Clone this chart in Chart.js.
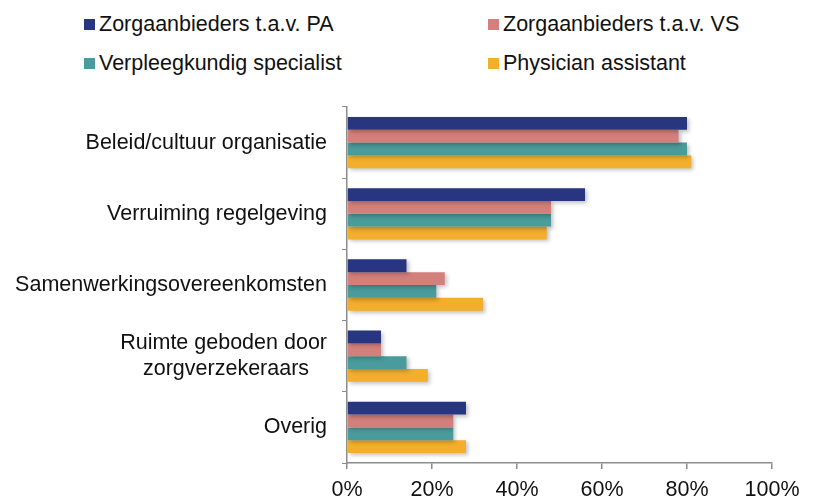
<!DOCTYPE html>
<html lang="nl">
<head>
    <meta charset="UTF-8">
    <title>Belemmeringen en kansen</title>
    <script src="https://cdn.jsdelivr.net/npm/chart.js"></script>
    <style>
        body {
            margin: 0;
            background: #ffffff;
            font-family: 'Liberation Sans', Arial, sans-serif;
        }
        .wrap {
            position: relative;
            width: 813px;
            height: 500px;
        }
        #barChart {
            position: absolute;
            left: 0;
            top: 0;
        }
        /* legend in two columns, like the original */
        .legend-item {
            position: absolute;
            font-size: 21.5px;
            color: #111;
            white-space: nowrap;
            line-height: 24px;
        }
        .legend-item .box {
            display: inline-block;
            width: 11px;
            height: 11px;
            margin-right: 4px;
            vertical-align: 1px;
        }
    </style>
</head>
<body>

<div class="wrap">
    <div id="legend"></div>
    <canvas id="barChart" width="813" height="500"></canvas>
</div>

<script>
    // data (percentages)
    const categories = [
        'Beleid/cultuur organisatie',
        'Verruiming regelgeving',
        'Samenwerkingsovereenkomsten',
        ['Ruimte geboden door', 'zorgverzekeraars   '],
        'Overig'
    ];
    const seriesNames = [
        'Zorgaanbieders t.a.v. PA',
        'Zorgaanbieders t.a.v. VS',
        'Verpleegkundig specialist',
        'Physician assistant'
    ];
    const zorgPA = [80, 56, 14, 8, 28];
    const zorgVS = [78, 48, 23, 8, 25];
    const verpleegkundig = [80, 48, 21, 14, 25];
    const physician = [81, 47, 32, 19, 28];
    const xTicks = [0, 20, 40, 60, 80, 100];

    const colors = ['#283580', '#D3807C', '#4A9B9B', '#F3AE2B'];
    const values = [zorgPA, zorgVS, verpleegkundig, physician];

    // legend positions (two columns, two rows)
    const legendPos = [
        { left: 84, top: 12 },
        { left: 488, top: 12 },
        { left: 84, top: 51 },
        { left: 488, top: 51 }
    ];
    const legendEl = document.getElementById('legend');
    seriesNames.forEach((name, i) => {
        const item = document.createElement('div');
        item.className = 'legend-item';
        item.style.left = legendPos[i].left + 'px';
        item.style.top = legendPos[i].top + 'px';
        item.innerHTML = '<span class="box" style="background:' + colors[i] + '"></span>';
        item.appendChild(document.createTextNode(name));
        legendEl.appendChild(item);
    });

    // soft drop shadow under the bars
    const barShadow = {
        id: 'barShadow',
        beforeDatasetsDraw(chart) {
            const ctx = chart.ctx;
            ctx.save();
            ctx.shadowColor = 'rgba(0, 0, 0, 0.25)';
            ctx.shadowBlur = 4;
            ctx.shadowOffsetX = 2;
            ctx.shadowOffsetY = 2;
        },
        afterDatasetsDraw(chart) {
            chart.ctx.restore();
        }
    };

    const font = { family: "'Liberation Sans', Arial, sans-serif", size: 21.5 };

    new Chart(document.getElementById('barChart'), {
        type: 'bar',
        data: {
            labels: categories,
            datasets: seriesNames.map((name, i) => ({
                label: name,
                data: values[i],
                backgroundColor: colors[i],
                borderWidth: 0,
                categoryPercentage: 0.72,
                barPercentage: 1.0
            }))
        },
        options: {
            indexAxis: 'y',
            responsive: false,
            animation: false,
            layout: {
                padding: { top: 107, right: 41, bottom: 0, left: 0 }
            },
            plugins: {
                legend: { display: false },
                tooltip: { enabled: false }
            },
            scales: {
                x: {
                    min: 0,
                    max: 100,
                    afterBuildTicks(scale) {
                        scale.ticks = xTicks.map(v => ({ value: v }));
                    },
                    afterFit(scale) {
                        scale.height = 37;
                    },
                    ticks: {
                        color: '#111',
                        font: font,
                        padding: 8,
                        callback: v => v + '%'
                    },
                    grid: {
                        drawOnChartArea: false,
                        color: '#8c8c8c',
                        tickLength: 6,
                        lineWidth: 1.5
                    },
                    border: { color: '#8c8c8c', width: 1.5 }
                },
                y: {
                    afterFit(scale) {
                        scale.width = 347;
                    },
                    ticks: {
                        color: '#111',
                        font: font,
                        padding: 15
                    },
                    grid: {
                        drawOnChartArea: false,
                        offset: true,
                        color: '#8c8c8c',
                        tickLength: 5,
                        lineWidth: 1
                    },
                    border: { color: '#8c8c8c', width: 1.5 }
                }
            }
        },
        plugins: [barShadow]
    });
</script>

</body>
</html>
